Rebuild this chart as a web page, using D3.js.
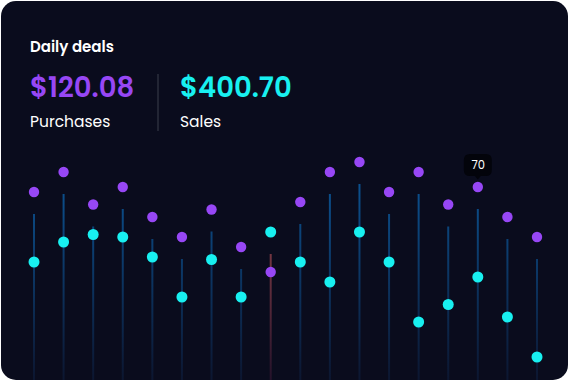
<!DOCTYPE html>
<html><head><meta charset="utf-8">
<script src="https://cdn.jsdelivr.net/npm/d3@7"></script>
<style>
html,body{margin:0;padding:0;background:#ffffff;}
svg{display:block;}
</style></head>
<body>
<svg id="c" width="570" height="382"></svg>
<script>
const days = ["1","2","3","4","5","6","7","8","9","10","11","12","13","14","15","16","17","18"];
const purchases = [68,76,63,70,58,50,61,46,36,64,76,80,68,76,63,70,58,50];
const sales     = [40,48,51,50,42,26,41,26,52,40,32,52,40,16,23,34,18,2];
const highlightIndex = 15;
const title = "Daily deals";
const totals = [{value:"$120.08", label:"Purchases", color:"#9747f5"},
                {value:"$400.70", label:"Sales", color:"#18f0f0"}];

const svg = d3.select("#c");
const W = 570, H = 382;
const font = "Poppins, Inter, 'Noto Sans', sans-serif";

svg.append("rect").attr("x",1).attr("y",1).attr("width",567).attr("height",379)
  .attr("rx",15).attr("fill","#0a0c1d");

const clip = svg.append("clipPath").attr("id","cardclip");
clip.append("rect").attr("x",1).attr("y",1).attr("width",567).attr("height",379).attr("rx",15);

const defs = svg.append("defs");
const gb = defs.append("linearGradient").attr("id","gblue").attr("gradientUnits","userSpaceOnUse")
  .attr("x1",0).attr("x2",0).attr("y1",180).attr("y2",380);
gb.append("stop").attr("offset","0%").attr("stop-color","#0b5291");
gb.append("stop").attr("offset","100%").attr("stop-color","#0c1630");
const gr = defs.append("linearGradient").attr("id","gred").attr("gradientUnits","userSpaceOnUse")
  .attr("x1",0).attr("x2",0).attr("y1",240).attr("y2",380);
gr.append("stop").attr("offset","0%").attr("stop-color","#7d3a44");
gr.append("stop").attr("offset","100%").attr("stop-color","#24122a");

// header
svg.append("text").attr("x",30).attr("y",52).text(title)
  .attr("fill","#ffffff").attr("font-family",font).attr("font-weight",600).attr("font-size",15);
const hx = [30,180];
totals.forEach((t,i)=>{
  svg.append("text").attr("x",hx[i]).attr("y",97).text(t.value)
    .attr("fill",t.color).attr("font-family",font).attr("font-weight",600).attr("font-size",27.5);
  svg.append("text").attr("x",hx[i]).attr("y",127).text(t.label)
    .attr("fill","#ffffff").attr("font-family",font).attr("font-weight",400).attr("font-size",15.5);
});
svg.append("line").attr("x1",158).attr("x2",158).attr("y1",74).attr("y2",131)
  .attr("stroke","#2b2e3d").attr("stroke-width",1.5);

// scales
const x = d3.scalePoint().domain(days).range([34,537]);
const y = d3.scaleLinear().domain([0,100]).range([362,112]);

const data = days.map((d,i)=>({day:d, p:purchases[i], s:sales[i], i}));
const g = svg.append("g").attr("clip-path","url(#cardclip)");

g.selectAll("line.stem").data(data).join("line").attr("class","stem")
  .attr("x1",d=>x(d.day)).attr("x2",d=>x(d.day))
  .attr("y1",d=>y(Math.max(d.p,d.s))+22).attr("y2",381)
  .attr("stroke",d=>d.p<d.s?"url(#gred)":"url(#gblue)").attr("stroke-width",2);

g.selectAll("circle.p").data(data).join("circle").attr("class","p")
  .attr("cx",d=>x(d.day)).attr("cy",d=>y(d.p)).attr("r",5.2).attr("fill","#9747f5");
g.selectAll("circle.s").data(data).join("circle").attr("class","s")
  .attr("cx",d=>x(d.day)).attr("cy",d=>y(d.s)).attr("r",5.5).attr("fill","#18f0f0");

// tooltip
const hd = data[highlightIndex];
const tx = x(hd.day), ty = y(hd.p) - 11;
const tw = 28, th = 22, r = 6;
const tip = svg.append("g").attr("transform",`translate(${tx},${ty})`);
const path = `M${-tw/2+r},${-th} H${tw/2-r} Q${tw/2},${-th} ${tw/2},${-th+r} V${-r} Q${tw/2},0 ${tw/2-r},0 H3 L0,3.5 L-3,0 H${-tw/2+r} Q${-tw/2},0 ${-tw/2},${-r} V${-th+r} Q${-tw/2},${-th} ${-tw/2+r},${-th} Z`;
tip.append("path").attr("d",path).attr("fill","#03040b");
tip.append("text").attr("x",0.5).attr("y",-7).attr("text-anchor","middle").text(hd.p)
  .attr("fill","#ffffff").attr("font-family",font).attr("font-size",11.5);
</script>
</body></html>
